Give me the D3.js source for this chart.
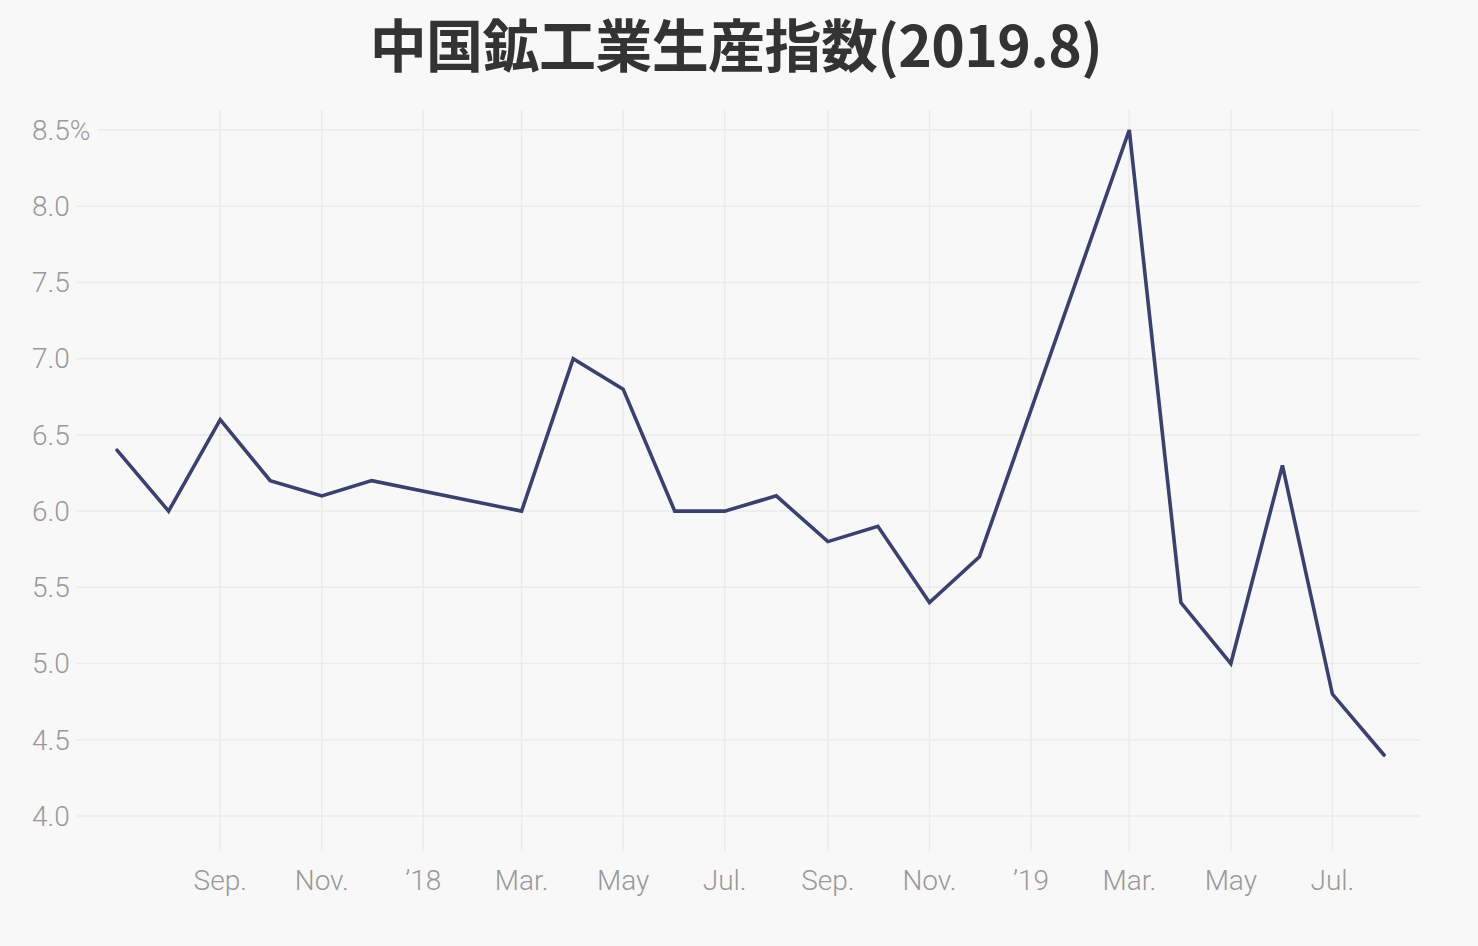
<!DOCTYPE html>
<html><head><meta charset="utf-8">
<script src="https://cdn.jsdelivr.net/npm/d3@7"></script>
<style>
html,body{margin:0;padding:0;background:#f8f8f8;}
svg{display:block;}
</style></head>
<body>
<svg id="chart" width="1478" height="946"></svg>
<script>
const title = "中国鉱工業生産指数(2019.8)";
const months = ["2017-07","2017-08","2017-09","2017-10","2017-11","2017-12","2018-03","2018-04","2018-05","2018-06","2018-07","2018-08","2018-09","2018-10","2018-11","2018-12","2019-03","2019-04","2019-05","2019-06","2019-07","2019-08"];
const values = [6.4,6.0,6.6,6.2,6.1,6.2,6.0,7.0,6.8,6.0,6.0,6.1,5.8,5.9,5.4,5.7,8.5,5.4,5.0,6.3,4.8,4.4];
const yTicks = [4.0,4.5,5.0,5.5,6.0,6.5,7.0,7.5,8.0,8.5];
const xTickDates = ["2017-09","2017-11","2018-01","2018-03","2018-05","2018-07","2018-09","2018-11","2019-01","2019-03","2019-05","2019-07"];
const xTickLabels = ["Sep.","Nov.","’18","Mar.","May","Jul.","Sep.","Nov.","’19","Mar.","May","Jul."];

const parse = d3.utcParse("%Y-%m");
const data = months.map((m,i)=>({date:parse(m), value:values[i]}));

const svg = d3.select("#chart");
const gridLeft = 32, gridRight = 1420, gridTop = 110, gridBottom = 851;

const x = d3.scaleUtc().domain([parse("2017-07"), parse("2019-08")]).range([117, 1384]);
const y = d3.scaleLinear().domain([4.0, 8.5]).range([816, 130]);

// title
svg.append("text").attr("x", 736).attr("y", 67).attr("text-anchor","middle")
  .attr("font-family","'Noto Sans CJK JP', sans-serif").attr("font-weight",700)
  .attr("font-size",57).attr("fill","#333").attr("letter-spacing","-0.6")
  .text(title);

// vertical grid
const xTicks = xTickDates.map(parse);
svg.append("g").selectAll("line").data(xTicks).join("line")
  .attr("x1", d=>x(d)).attr("x2", d=>x(d)).attr("y1", gridTop).attr("y2", gridBottom)
  .attr("stroke","#ebebeb").attr("stroke-width",1.5);

// horizontal grid
svg.append("g").selectAll("line").data(yTicks).join("line")
  .attr("x1", gridLeft).attr("x2", gridRight).attr("y1", d=>y(d)).attr("y2", d=>y(d))
  .attr("stroke","#ebebeb").attr("stroke-width",1.5);

// y labels with background
const yl = svg.append("g").selectAll("g").data(yTicks).join("g");
yl.append("text").attr("x", gridLeft).attr("y", d=>y(d)).attr("dy","0.35em")
  .attr("font-family","Roboto, sans-serif").attr("font-weight",300).attr("font-size",28).attr("fill","#999")
  .text((d,i)=> i===yTicks.length-1 ? d3.format(".1f")(d)+"%" : d3.format(".1f")(d))
  .each(function(){
    const b = this.getBBox();
    d3.select(this.parentNode).insert("rect","text")
      .attr("x", b.x-2).attr("y", b.y).attr("width", b.width+9).attr("height", b.height)
      .attr("fill","#f8f8f8");
  });

// x labels
svg.append("g").selectAll("text").data(xTicks).join("text")
  .attr("x", d=>x(d)).attr("y", 890).attr("text-anchor","middle")
  .attr("font-family","Roboto, sans-serif").attr("font-weight",300).attr("font-size",28).attr("fill","#999")
  .text((d,i)=>xTickLabels[i]);

// line
svg.append("path").datum(data)
  .attr("fill","none").attr("stroke","#3b416d").attr("stroke-width",3.6)
  .attr("stroke-linejoin","miter").attr("stroke-linecap","round")
  .attr("d", d3.line().x(d=>x(d.date)).y(d=>y(d.value)));
</script>
</body></html>
